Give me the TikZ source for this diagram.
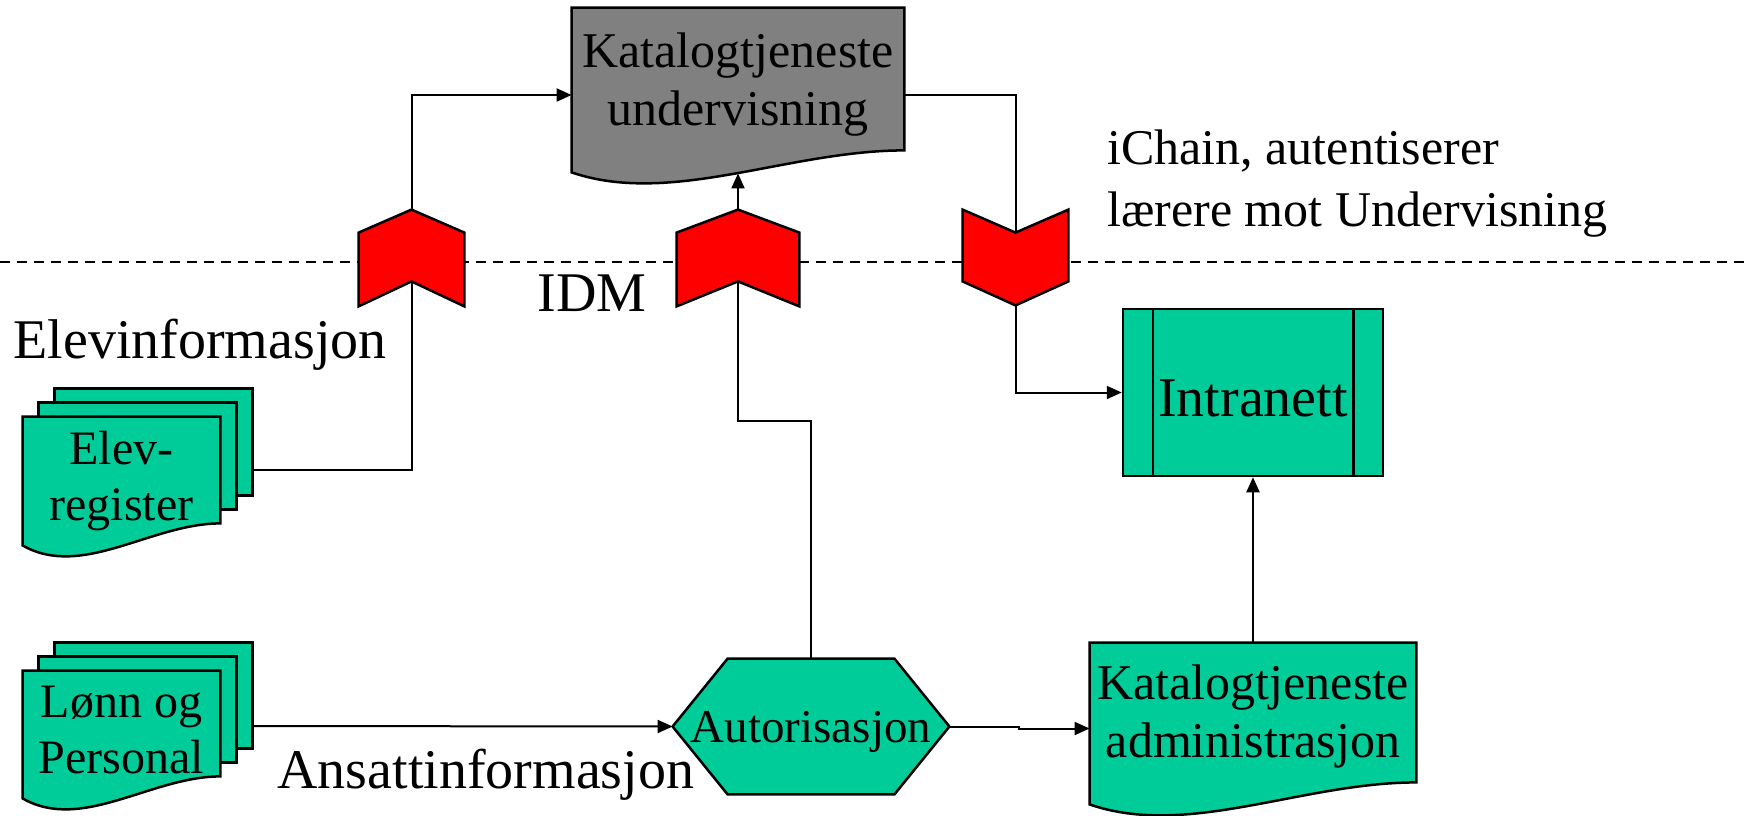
\documentclass[tikz,border=0pt]{standalone}
\usepackage{fontspec}
\setmainfont{Liberation Serif}
\usepackage{tikz}
\usetikzlibrary{arrows.meta, calc, backgrounds}

\definecolor{idmgreen}{RGB}{0,204,153}
\definecolor{idmgray}{RGB}{128,128,128}
\definecolor{idmred}{RGB}{255,0,0}

\tikzset{
  shapeline/.style={line width=1.25pt},
  doc/.style={inner sep=0pt, align=center, font=\fontsize{25}{29}\selectfont},
  stack/.style={inner sep=0pt, align=center, font=\fontsize{24}{28}\selectfont},
  hexa/.style={inner sep=0pt, text depth=0pt, font=\fontsize{23.5}{28}\selectfont},
  sys/.style={draw, fill=idmgreen, shapeline, inner sep=0pt, text height=24pt, font=\fontsize{28}{32}\selectfont},
  chev/.style={inner sep=0pt},
  lbl/.style={inner sep=0pt, font=\fontsize{28}{32}\selectfont},
  note/.style={inner sep=0pt, align=left, font=\fontsize{25}{31}\selectfont},
  conn/.style={line width=1pt},
  arr/.style={conn, -{Triangle[length=7.5pt,width=6.5pt]}},
  idmline/.style={line width=1pt, dash pattern=on 5pt off 3.5pt}
}

\newcommand{\docshape}[2]{%
\begin{pgfonlayer}{background}
\filldraw[fill=#2, shapeline] (#1.north west) -- (#1.north east) -- ($(#1.south east)+(0,-32)$)
  .. controls ($(#1.south east)!0.35!(#1.south west)+(0,-32)$) and ($(#1.south east)!0.7!(#1.south west)+(0,24)$) .. ($(#1.south west)+(0,-10)$) -- cycle;
\end{pgfonlayer}}

\newcommand{\stackshape}[1]{%
\begin{pgfonlayer}{background}
\filldraw[fill=idmgreen, shapeline] ($(#1.north west)+(32,-28)$) rectangle ($(#1.south east)+(32,-60)$);
\filldraw[fill=idmgreen, shapeline] ($(#1.north west)+(16,-14)$) rectangle ($(#1.south east)+(16,-46)$);
\end{pgfonlayer}%
\docshape{#1}{idmgreen}}

\newcommand{\hexshape}[1]{%
\begin{pgfonlayer}{background}
\filldraw[fill=idmgreen, shapeline] (#1.west) -- ($(#1.north west)+(55,0)$) -- ($(#1.north east)+(-55,0)$) -- (#1.east)
  -- ($(#1.south east)+(-55,0)$) -- ($(#1.south west)+(55,0)$) -- cycle;
\end{pgfonlayer}}

\newcommand{\chevup}[1]{%
\begin{pgfonlayer}{background}
\filldraw[fill=idmred, shapeline] (#1.north) -- ($(#1.north east)+(0,23)$) -- (#1.south east) -- ($(#1.south)+(0,-25)$)
  -- (#1.south west) -- ($(#1.north west)+(0,23)$) -- cycle;
\end{pgfonlayer}}

\newcommand{\chevdown}[1]{%
\begin{pgfonlayer}{background}
\filldraw[fill=idmred, shapeline] (#1.north west) -- ($(#1.north)+(0,23)$) -- (#1.north east) -- ($(#1.south east)+(0,-24)$)
  -- (#1.south) -- ($(#1.south west)+(0,-24)$) -- cycle;
\end{pgfonlayer}}

\begin{document}
\begin{tikzpicture}[x=0.5pt, y=-0.5pt]
\useasboundingbox (0,0) rectangle (1750,815);
\begin{pgfonlayer}{background}
\draw[idmline] (0,262) -- (1745,262);
\end{pgfonlayer}
%
\node[doc, text depth=16pt, minimum width=166pt, minimum height=87pt] (katund) at (738,95) {Katalogtjeneste\\undervisning};
\node[doc, text depth=17pt, minimum width=163pt, minimum height=85.5pt] (katadm) at (1253,728.5) {Katalogtjeneste\\administrasjon};
\node[stack, text depth=10pt, minimum width=98.5pt, minimum height=69pt] (elev) at (121.5,486) {Elev-\\register};
\node[stack, text depth=10pt, minimum width=98.5pt, minimum height=68.5pt] (lonn) at (121.5,739.5) {Lønn og\\Personal};
\node[hexa, minimum width=138pt, minimum height=67.5pt] (aut) at (811,726.5) {Autorisasjon};
\node[sys, minimum width=130pt, minimum height=83.5pt] (intra) at (1253,392.5) {Intranett};
\node[chev, minimum width=52.5pt, minimum height=48pt] (chevelev) at (411.5,258) {};
\node[chev, minimum width=61pt, minimum height=48pt] (chevaut) at (738,258) {};
\node[chev, minimum width=52.5pt, minimum height=47.5pt] (chevintra) at (1015.5,257.5) {};
%
\docshape{katund}{idmgray}
\docshape{katadm}{idmgreen}
\stackshape{elev}
\stackshape{lonn}
\hexshape{aut}
\chevup{chevelev}
\chevup{chevaut}
\chevdown{chevintra}
\draw[shapeline] ($(intra.north west)+(31,0)$) -- ($(intra.south west)+(31,0)$);
\draw[shapeline] ($(intra.north east)+(-31,0)$) -- ($(intra.south east)+(-31,0)$);
%
\node[lbl, anchor=base west] (elevinfo) at (13,358) {Elevinformasjon};
\node[lbl, anchor=base west] (ansinfo) at (277,788) {Ansattinformasjon};
\node[lbl, anchor=base west] (idm) at (537,311) {IDM};
\node[note, anchor=north west] (ichain) at (1107,129) {iChain, autentiserer\\lærere mot Undervisning};
%
\coordinate (elevout) at ($(elev.east)+(32,-16)$);
\coordinate (lonnout) at ($(lonn.east)+(32,-13.5)$);
\draw[conn] (elevout) -| ($(chevelev.south)+(0,-25)$);
\draw[arr] (chevelev.north) |- (katund.west);
\draw[conn] (aut.north) -- ++(0,-238) -| ($(chevaut.south)+(0,-25)$);
\draw[arr] (chevaut.north) -- ($(katund.south)+(0,-9)$);
\draw[conn] (katund.east) -| ($(chevintra.north)+(0,23)$);
\draw[arr] (chevintra.south) |- (intra.west);
\draw[arr] (lonnout) -- (aut.west);
\draw[arr] (aut.east) -- ++(70,0) |- (katadm.west);
\draw[arr] (katadm.north) -- (intra.south);
\end{tikzpicture}
\end{document}
